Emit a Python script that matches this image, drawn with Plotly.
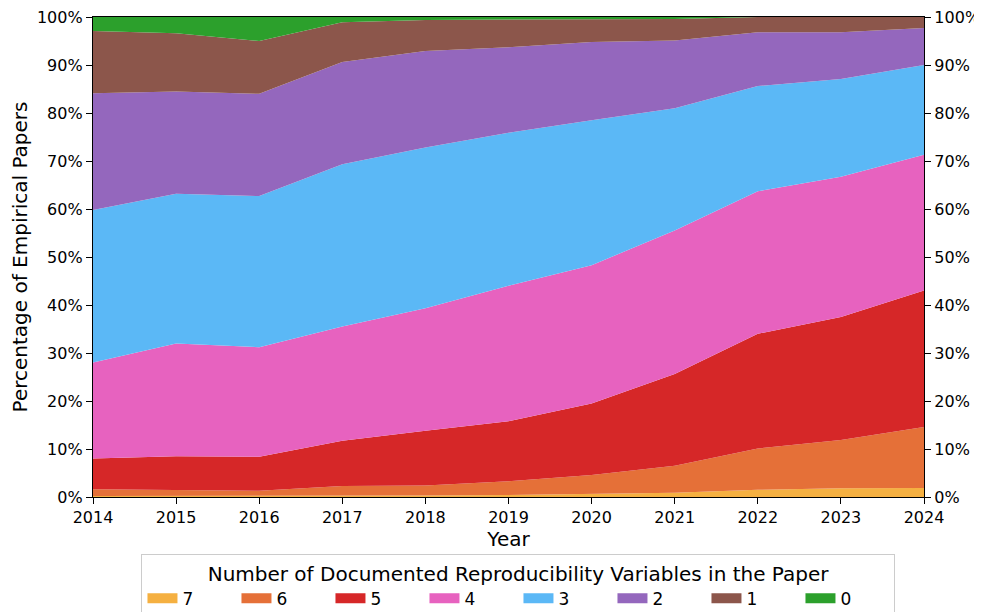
import plotly.graph_objects as go

years = [2014, 2015, 2016, 2017, 2018, 2019, 2020, 2021, 2022, 2023, 2024]
categories = ["7", "6", "5", "4", "3", "2", "1", "0"]
v7 = [0.2, 0.2, 0.2, 0.3, 0.3, 0.4, 0.6, 0.9, 1.5, 1.8, 1.9]
v6 = [1.4, 1.2, 1.1, 2.0, 2.1, 2.9, 4.0, 5.6, 8.6, 10.1, 12.7]
v5 = [6.4, 7.1, 7.1, 9.4, 11.4, 12.5, 14.9, 19.1, 23.9, 25.6, 28.4]
v4 = [20.0, 23.5, 22.8, 23.8, 25.5, 28.2, 28.8, 29.9, 29.7, 29.2, 28.3]
v3 = [31.8, 31.2, 31.5, 33.8, 33.5, 31.9, 30.2, 25.5, 21.9, 20.4, 18.7]
v2 = [24.3, 21.3, 21.3, 21.3, 20.1, 17.8, 16.3, 14.1, 11.2, 9.7, 7.7]
v1 = [13.0, 12.1, 11.0, 8.3, 6.5, 5.8, 4.8, 4.5, 3.2, 3.2, 2.3]
v0 = [2.9, 3.4, 5.0, 1.1, 0.6, 0.5, 0.4, 0.4, 0.0, 0.0, 0.0]
series = [v7, v6, v5, v4, v3, v2, v1, v0]
colors = ["#f5b041", "#e57038", "#d62728", "#e762bf", "#5bb8f6", "#9467bd", "#8c564b", "#2ca02c"]
yticks = [0, 10, 20, 30, 40, 50, 60, 70, 80, 90, 100]
yticklabels = [f"{t}%" for t in yticks]

fig = go.Figure()
for name, vals, col in zip(categories, series, colors):
    fig.add_trace(go.Scatter(
        x=years, y=vals, name=name, mode="lines",
        stackgroup="one", line=dict(width=0, color=col),
        fillcolor=col, showlegend=False, hoverinfo="x+y+name",
    ))
# legend entries (rectangular swatches)
for name, col in zip(categories, colors):
    fig.add_trace(go.Scatter(x=[None], y=[None], name=name, mode="lines",
                             line=dict(width=12, color=col), showlegend=True))
# invisible trace for the right-hand axis
fig.add_trace(go.Scatter(x=[years[0]], y=[0], yaxis="y2", mode="markers",
                         marker=dict(opacity=0), showlegend=False, hoverinfo="skip"))

font = "DejaVu Sans"
axis_common = dict(showline=True, linecolor="black", linewidth=1.3,
                   ticks="outside", ticklen=6, tickwidth=1.2, tickcolor="black",
                   showgrid=False, zeroline=False, automargin=False,
                   ticklabeloverflow="allow",
                   tickfont=dict(size=16, color="black"))

fig.update_layout(
    width=974, height=604,
    margin=dict(l=85, r=58, t=9, b=115, autoexpand=False),
    paper_bgcolor="white", plot_bgcolor="white",
    font=dict(family=font, color="black", size=16),
    xaxis=dict(range=[2014, 2024], tickvals=years, title=dict(text="Year", font=dict(size=20), standoff=4),
               mirror=True, **axis_common),
    yaxis=dict(range=[0, 100], tickvals=yticks, ticktext=yticklabels,
               title=dict(text="Percentage of Empirical Papers", font=dict(size=20), standoff=6),
               **axis_common),
    yaxis2=dict(range=[0, 100], tickvals=yticks, ticktext=yticklabels, overlaying="y", side="right",
                **axis_common),
    legend=dict(orientation="h", x=0.512, xanchor="center", y=-0.118, yanchor="top",
                bordercolor="#cccccc", borderwidth=1, bgcolor="white",
                title=dict(text="Number of Documented Reproducibility Variables in the Paper",
                           side="top center", font=dict(size=20)),
                font=dict(size=17), traceorder="normal", entrywidth=49, itemwidth=30),
    showlegend=True,
)

fig.write_html("out.html")
